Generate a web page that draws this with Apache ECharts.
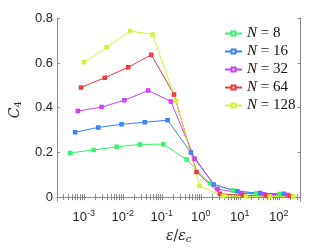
<!DOCTYPE html>
<html><head><meta charset="utf-8">
<script src="https://cdn.jsdelivr.net/npm/echarts@6/dist/echarts.min.js"></script>
<style>html,body{margin:0;padding:0;background:#fff}#c{width:332px;height:249px}</style>
</head><body><div id="c"></div>
<script>
const seriesNames = ['N = 8', 'N = 16', 'N = 32', 'N = 64', 'N = 128'];
const xN8 = [4.5e-4, 1.78e-3, 7.0e-3, 0.0277, 0.109, 0.431, 1.70, 6.71, 26.5, 104];
const yN8 = [0.198, 0.211, 0.225, 0.236, 0.237, 0.168, 0.062, 0.030, 0.016, 0.014];
const xN16 = [6.0e-4, 2.36e-3, 9.3e-3, 0.0366, 0.141, 0.556, 2.13, 8.65, 33.2, 135];
const yN16 = [0.290, 0.312, 0.326, 0.335, 0.344, 0.200, 0.057, 0.026, 0.018, 0.015];
const xN32 = [7.06e-4, 2.86e-3, 0.011, 0.0447, 0.171, 0.695, 2.67, 10.8, 41.5, 168];
const yN32 = [0.385, 0.403, 0.433, 0.477, 0.428, 0.172, 0.036, 0.018, 0.013, 0.010];
const xN64 = [8.5e-4, 3.45e-3, 0.0138, 0.0537, 0.206, 0.776, 3.10, 12.1, 49.1, 194];
const yN64 = [0.491, 0.534, 0.581, 0.637, 0.459, 0.113, 0.015, 0.008, 0.005, 0.005];
const xN128 = [1.0e-3, 3.85e-3, 0.0154, 0.058, 0.233, 0.935, 3.73, 14.3, 58.1, 232];
const yN128 = [0.603, 0.670, 0.743, 0.728, 0.430, 0.050, 0.004, 0.003, 0.003, 0.003];
const xMajorTicks = [1e-3, 1e-2, 1e-1, 1, 10, 100];
const yTicks = [0, 0.2, 0.4, 0.6, 0.8];

const colors = ['#33f56b', '#3a80f5', '#cc3df5', '#f5333d', '#ccf533'];
const xs = [xN8, xN16, xN32, xN64, xN128];
const ys = [yN8, yN16, yN32, yN64, yN128];

const xMin = 2.06e-4, xMax = 359;
const xAllTicks = [];
for (let e = -4; e <= 2; e++) {
  for (let k = 1; k <= 9; k++) {
    const v = k * Math.pow(10, e);
    if (v >= xMin && v <= xMax) xAllTicks.push(v);
  }
}
const axisColor = '#8a8a8a';
const labelColor = '#262626';

const chart = echarts.init(document.getElementById('c'), null, {renderer: 'canvas'});
chart.setOption({
  animation: false,
  backgroundColor: '#fff',
  grid: {left: 44, right: 31.5, top: 18.3, bottom: 45, containLabel: false},
  legend: {
    orient: 'vertical', left: 219, top: 21,
    itemWidth: 17, itemHeight: 5, itemGap: 3,
    data: seriesNames,
    formatter: n => '{i|N}{t| = ' + n.split('= ')[1] + '}',
    textStyle: {
      rich: {
        i: {fontFamily: 'Liberation Serif', fontStyle: 'italic', fontSize: 15, color: '#111'},
        t: {fontFamily: 'Liberation Serif', fontSize: 15, color: '#111'}
      }
    }
  },
  xAxis: [{
    type: 'log', logBase: 10, min: xMin, max: xMax,
    name: '{i|ε}{t|/}{i|ε}{s|c}', nameLocation: 'middle', nameGap: 26,
    nameTextStyle: {rich: {
      i: {fontFamily: 'DejaVu Serif', fontStyle: 'italic', fontSize: 14, color: labelColor},
      t: {fontFamily: 'DejaVu Serif', fontSize: 14, color: labelColor},
      s: {fontFamily: 'DejaVu Serif', fontStyle: 'italic', fontSize: 10, color: labelColor, padding: [6, 0, 0, 0]}
    }},
    axisLine: {show: true, lineStyle: {color: axisColor, width: 1}},
    axisTick: {show: true, inside: true, length: 3, customValues: xAllTicks, lineStyle: {color: axisColor}},
    minorTick: {show: false},
    splitLine: {show: false},
    axisLabel: {
      customValues: xMajorTicks, margin: 8,
      formatter: v => '{b|10}{s|' + Math.round(Math.log10(v)) + '}',
      rich: {
        b: {fontFamily: 'Liberation Sans', fontSize: 13, color: labelColor},
        s: {fontFamily: 'Liberation Sans', fontSize: 9, color: labelColor, padding: [0, 0, 8, 0]}
      }
    }
  }, {
    type: 'log', logBase: 10, min: xMin, max: xMax, position: 'top',
    axisLine: {show: true, lineStyle: {color: axisColor, width: 1}},
    axisTick: {show: true, inside: true, length: 3, customValues: xAllTicks, lineStyle: {color: axisColor}},
    axisLabel: {show: false}, splitLine: {show: false}
  }],
  yAxis: [{
    type: 'value', min: -0.0177, max: 0.8,
    name: '{i|C}{s|4}', nameLocation: 'middle', nameGap: 34, nameRotate: 90,
    nameTextStyle: {rich: {
      i: {fontFamily: 'DejaVu Serif', fontStyle: 'italic', fontSize: 14, color: labelColor},
      s: {fontFamily: 'DejaVu Serif', fontSize: 10, color: labelColor, padding: [6, 0, 0, 0]}
    }},
    axisLine: {show: true, lineStyle: {color: axisColor, width: 1}},
    axisTick: {show: true, inside: true, length: 3, customValues: yTicks, lineStyle: {color: axisColor}},
    splitLine: {show: false},
    axisLabel: {customValues: yTicks, margin: 4, fontFamily: 'Liberation Sans', fontSize: 13, color: labelColor,
      formatter: v => String(Math.round(v * 10) / 10)}
  }, {
    type: 'value', min: -0.0177, max: 0.8, position: 'right',
    axisLine: {show: true, lineStyle: {color: axisColor, width: 1}},
    axisTick: {show: true, inside: true, length: 3, customValues: yTicks, lineStyle: {color: axisColor}},
    axisLabel: {show: false}, splitLine: {show: false}
  }],
  series: seriesNames.map((n, s) => ({
    name: n, type: 'line', xAxisIndex: 0, yAxisIndex: 0,
    data: xs[s].map((x, i) => [x, ys[s][i]]),
    symbol: 'emptyRect', symbolSize: 2.5, showAllSymbol: true,
    lineStyle: {color: colors[s], width: 1},
    itemStyle: {color: colors[s], borderColor: colors[s], borderWidth: 1},
    emphasis: {disabled: true}
  }))
});
</script></body></html>
